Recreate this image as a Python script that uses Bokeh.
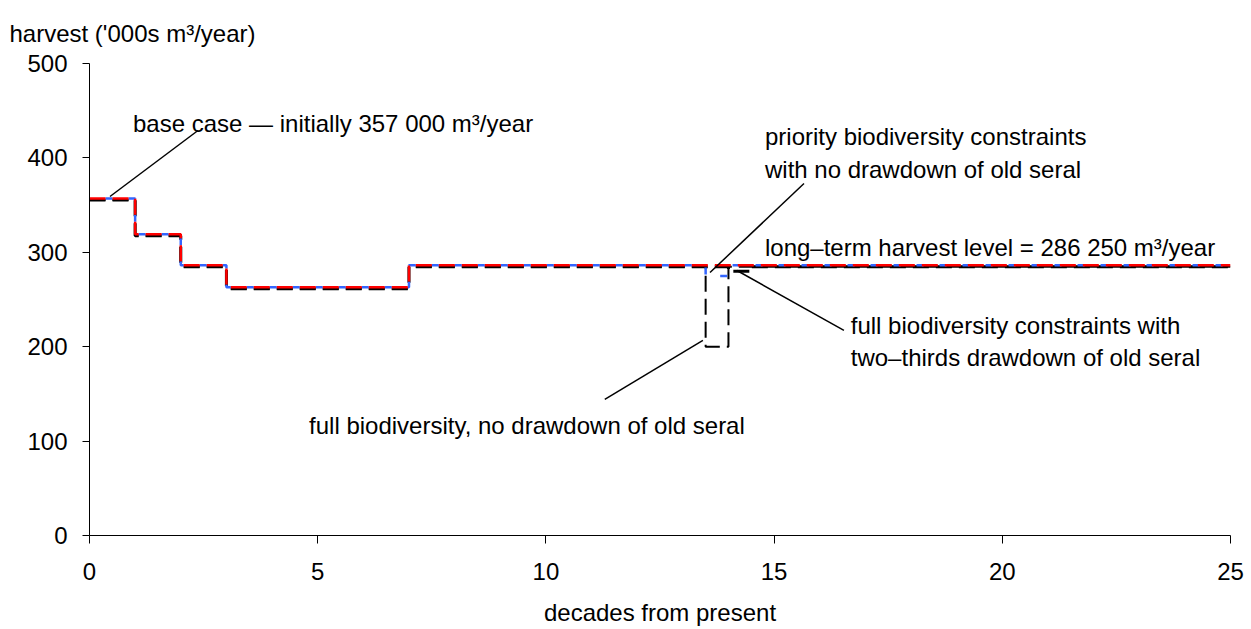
from bokeh.plotting import figure
from bokeh.models import Range1d, Label, FixedTicker
from bokeh.embed import file_html
from bokeh.resources import INLINE

# ---- data (decades from present, harvest '000s m3/year) ----
base_x = [0, 1, 2, 3, 7, 25]
base_y = [357, 319, 286.25, 263, 286.25, 286.25]

priority_x = [0, 1, 2, 3, 7, 13.5, 14, 25]
priority_y = [357, 319, 286.25, 263, 286.25, 275, 286.25, 286.25]

full_twothirds_x = [0, 1, 2, 3, 7, 14, 14.5, 25]
full_twothirds_y = [355.5, 317.5, 284.75, 261.5, 284.75, 280, 284.75, 284.75]

full_nodraw_x = [0, 1, 2, 3, 7, 13.5, 14, 25]
full_nodraw_y = [355.5, 317.5, 284.75, 261.5, 284.75, 200, 284.75, 284.75]

x_ticks = [0, 5, 10, 15, 20, 25]
y_ticks = [0, 100, 200, 300, 400, 500]

FONT = "Liberation Sans"
FS = "24px"

p = figure(width=1251, height=629, output_backend="svg", toolbar_location=None,
           x_range=Range1d(0, 25), y_range=Range1d(0, 500),
           min_border_left=89, min_border_right=21, min_border_top=63, min_border_bottom=94)
p.outline_line_color = None
p.grid.grid_line_color = None
p.background_fill_color = "white"
p.border_fill_color = "white"

xa = p.below[0]
ya = p.left[0]

p.title.text = "harvest ('000s m\u00b3/year)"
p.title.align = "left"
p.title.vertical_align = "top"
p.title.offset = -80
p.title.text_font = FONT
p.title.text_font_size = FS
p.title.text_font_style = "normal"
p.title.text_color = "black"
p.title.standoff = 30

for ax in (xa, ya):
    ax.axis_line_color = "black"
    ax.major_tick_line_color = "black"
    ax.minor_tick_line_color = None
    ax.major_tick_in = 0
    ax.major_label_text_font = FONT
    ax.major_label_text_font_size = FS
    ax.major_label_text_color = "black"
xa.ticker = FixedTicker(ticks=x_ticks)
ya.ticker = FixedTicker(ticks=y_ticks)
xa.major_tick_out = 8
ya.major_tick_out = 7
xa.major_label_standoff = 19
ya.major_label_standoff = 15

xa.axis_label = "decades from present"
xa.axis_label_text_font = FONT
xa.axis_label_text_font_size = FS
xa.axis_label_text_font_style = "normal"
xa.axis_label_text_color = "black"
xa.axis_label_standoff = 16

# ---- series ----
p.step(full_twothirds_x, full_twothirds_y, mode="after", line_color="black",
       line_width=3, line_dash="16 7")
p.step(full_nodraw_x, full_nodraw_y, mode="after", line_color="black",
       line_width=2, line_dash="16 7")
p.step(priority_x, priority_y, mode="after", line_color="#3366ff",
       line_width=2.5, line_dash="7 16", line_dash_offset=7)
p.step(base_x, base_y, mode="after", line_color="#ff0000",
       line_width=2.5, line_dash="16 7")

# ---- leader lines ----
p.segment(x0=[0.449, 15.655, 14.186, 13.44], y0=[359.1, 372.9, 280.7, 206.6],
          x1=[2.377, 13.596, 16.53, 11.29], y1=[429.0, 278.6, 217.2, 144.1],
          line_color="black", line_width=1.5)

# ---- annotations ----
def lab(x, y, t, align="left"):
    p.add_layout(Label(x=x, y=y, text=t, text_font=FONT, text_font_size=FS,
                       text_color="black", text_align=align,
                       text_baseline="alphabetic"))

lab(0.953, 436.4, "base case \u2014 initially 357 000 m\u00b3/year")
lab(14.80, 422.7, "priority biodiversity constraints")
lab(14.80, 387.7, "with no drawdown of old seral")
lab(14.80, 305.4, "long\u2013term harvest level = 286 250 m\u00b3/year")
lab(16.68, 222.5, "full biodiversity constraints with")
lab(16.68, 188.2, "two\u2013thirds drawdown of old seral")
lab(4.81, 116.5, "full biodiversity, no drawdown of old seral")

open("out.html", "w").write(file_html(p, INLINE))
